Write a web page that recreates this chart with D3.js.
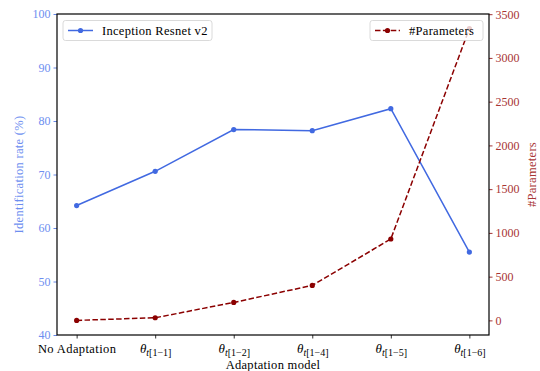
<!DOCTYPE html>
<html>
<head>
<meta charset="utf-8">
<script src="https://cdn.jsdelivr.net/npm/d3@7"></script>
<style>
  body { margin: 0; background: #fff; }
</style>
</head>
<body>
<div id="chart"></div>
<script>
// x categories (first is plain text, the rest are theta subscripts)
const categories = ['No Adaptation', '1\u22121', '1\u22122', '1\u22124', '1\u22125', '1\u22126'];
const idRate = [64.2, 70.6, 78.4, 78.2, 82.3, 55.5];
const numParams = [0, 30, 205, 400, 930, 3335];
const leftTicks = [40, 50, 60, 70, 80, 90, 100];
const rightTicks = [0, 500, 1000, 1500, 2000, 2500, 3000, 3500];

const width = 540, height = 371;
const margin = { top: 14, right: 51, bottom: 36, left: 57 };
const font = '"Liberation Serif", "DejaVu Serif", serif';
const blue = '#4169e1', blueText = '#6d8ef0';
const red = '#8b0000', redText = '#a83535';

const svg = d3.select('#chart').append('svg')
  .attr('width', width)
  .attr('height', height)
  .attr('font-family', font);

const x = d3.scaleLinear()
  .domain([-0.25, 5.25])
  .range([margin.left, width - margin.right]);
const yL = d3.scaleLinear()
  .domain([40, 100])
  .range([height - margin.bottom, margin.top]);
const yR = d3.scaleLinear()
  .domain([-167, 3502])
  .range([height - margin.bottom, margin.top]);

// axes
const xAxis = svg.append('g')
  .attr('transform', `translate(0,${height - margin.bottom})`)
  .call(d3.axisBottom(x).tickValues(d3.range(categories.length)).tickSize(3.5).tickFormat(''));
xAxis.attr('font-family', font);
xAxis.select('.domain').remove();
xAxis.selectAll('line').attr('stroke', '#000').attr('stroke-width', 0.8);

xAxis.selectAll('.tick').each(function (d) {
  const t = d3.select(this).append('text')
    .attr('y', 18)
    .attr('fill', '#000')
    .attr('font-family', font)
    .attr('font-size', 12.5)
    .attr('text-anchor', 'middle');
  if (d === 0) {
    t.attr('letter-spacing', 0.4).text(categories[0]);
  } else {
    t.append('tspan').attr('font-style', 'italic').attr('font-size', 13).text('\u03b8');
    t.append('tspan').attr('font-style', 'italic').attr('font-size', 10).attr('dy', 3).text('t');
    t.append('tspan').attr('font-size', 10).text('[' + categories[d] + ']');
  }
});

const left = svg.append('g')
  .attr('transform', `translate(${margin.left},0)`)
  .call(d3.axisLeft(yL).tickValues(leftTicks).tickSize(3.5).tickFormat(d3.format('d')));
left.attr('font-family', font);
left.select('.domain').remove();
left.selectAll('line').attr('stroke', blue).attr('stroke-width', 0.8);
left.selectAll('text').attr('fill', blueText).attr('font-size', 12).attr('font-family', font);

const right = svg.append('g')
  .attr('transform', `translate(${width - margin.right},0)`)
  .call(d3.axisRight(yR).tickValues(rightTicks).tickSize(3.5).tickFormat(d3.format('d')));
right.attr('font-family', font);
right.select('.domain').remove();
right.selectAll('line').attr('stroke', red).attr('stroke-width', 0.8);
right.selectAll('text').attr('fill', redText).attr('font-size', 12).attr('font-family', font);

// frame
svg.append('rect')
  .attr('x', margin.left)
  .attr('y', margin.top)
  .attr('width', width - margin.left - margin.right)
  .attr('height', height - margin.top - margin.bottom)
  .attr('fill', 'none')
  .attr('stroke', '#000')
  .attr('stroke-width', 1.2);

// axis labels
svg.append('text')
  .attr('x', (margin.left + width - margin.right) / 2)
  .attr('y', 369)
  .attr('text-anchor', 'middle')
  .attr('font-size', 12.5)
  .attr('letter-spacing', 0.3)
  .text('Adaptation model');

svg.append('text')
  .attr('transform', `translate(23,${(margin.top + height - margin.bottom) / 2}) rotate(-90)`)
  .attr('text-anchor', 'middle')
  .attr('font-size', 12.5)
  .attr('letter-spacing', 0.3)
  .attr('fill', blueText)
  .text('Identification rate (%)');

svg.append('text')
  .attr('transform', `translate(536,${(margin.top + height - margin.bottom) / 2}) rotate(-90)`)
  .attr('text-anchor', 'middle')
  .attr('font-size', 12.5)
  .attr('letter-spacing', 0.3)
  .attr('fill', redText)
  .text('#Parameters');

// lines
const lineL = d3.line().x((d, i) => x(i)).y(d => yL(d));
const lineR = d3.line().x((d, i) => x(i)).y(d => yR(d));

svg.append('path')
  .datum(idRate)
  .attr('fill', 'none')
  .attr('stroke', blue)
  .attr('stroke-width', 1.5)
  .attr('d', lineL);
svg.selectAll('.dotL')
  .data(idRate)
  .enter().append('circle')
  .attr('cx', (d, i) => x(i))
  .attr('cy', d => yL(d))
  .attr('r', 2.6)
  .attr('fill', blue);

svg.append('path')
  .datum(numParams)
  .attr('fill', 'none')
  .attr('stroke', red)
  .attr('stroke-width', 1.5)
  .attr('stroke-dasharray', '5.5,2.4')
  .attr('d', lineR);
svg.selectAll('.dotR')
  .data(numParams)
  .enter().append('circle')
  .attr('cx', (d, i) => x(i))
  .attr('cy', d => yR(d))
  .attr('r', 2.6)
  .attr('fill', red);

// legends
function legend(x0, y0, w, label, color, dash) {
  const g = svg.append('g').attr('transform', `translate(${x0},${y0})`);
  g.append('rect')
    .attr('width', w).attr('height', 20)
    .attr('rx', 2.5)
    .attr('fill', 'rgba(255,255,255,0.8)')
    .attr('stroke', '#d0d0d0')
    .attr('stroke-width', 0.8);
  g.append('line')
    .attr('x1', 5).attr('x2', 30).attr('y1', 10).attr('y2', 10)
    .attr('stroke', color).attr('stroke-width', 1.5)
    .attr('stroke-dasharray', dash ? '5.5,2.4' : null);
  g.append('circle').attr('cx', 17.5).attr('cy', 10).attr('r', 2.6).attr('fill', color);
  g.append('text')
    .attr('x', 39).attr('y', 14)
    .attr('font-size', 12.5)
    .attr('letter-spacing', 0.3)
    .text(label);
}
legend(63, 20.5, 149, 'Inception Resnet v2', blue, false);
legend(370, 20.5, 113, '#Parameters', red, true);
</script>
</body>
</html>
